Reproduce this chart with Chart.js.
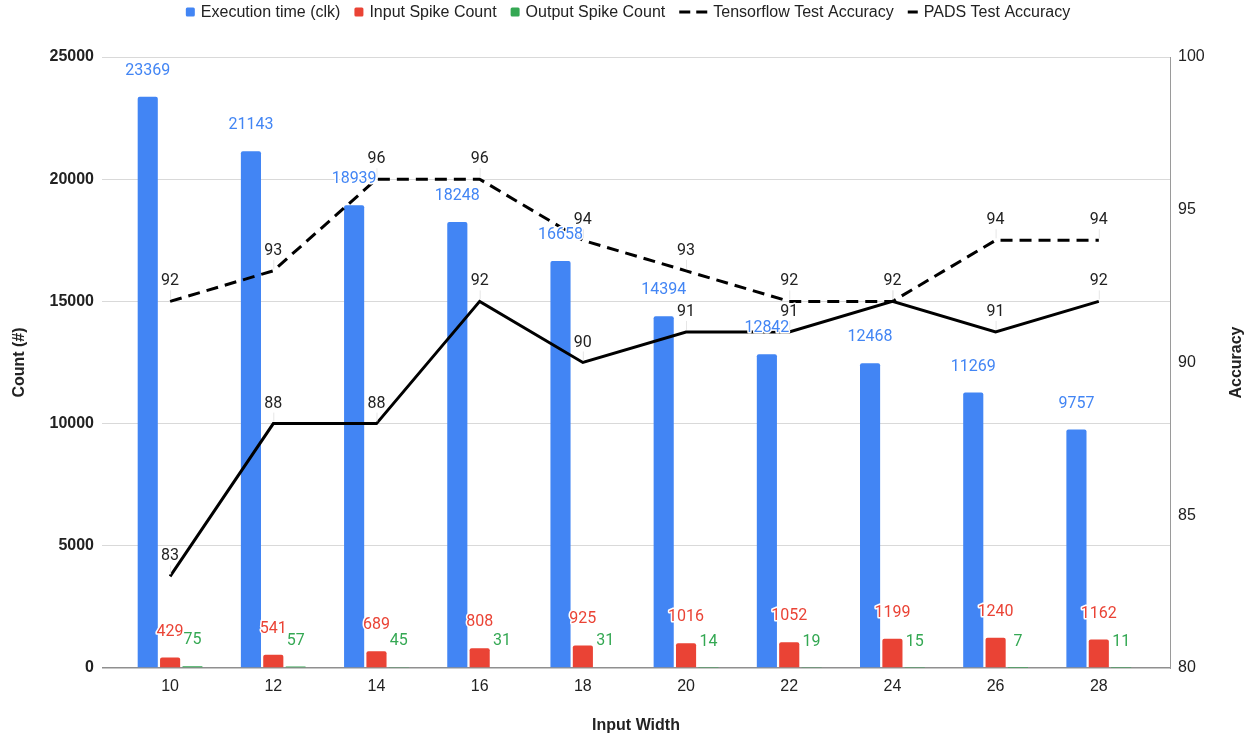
<!DOCTYPE html>
<html>
<head>
<meta charset="utf-8">
<title>Input Width vs Execution Time, Spike Counts and Accuracy</title>
<script src="https://cdn.jsdelivr.net/npm/chart.js@4.4.1/dist/chart.umd.min.js"></script>
<style>
  html, body { margin: 0; padding: 0; background: #ffffff; }
  #wrap { width: 1253px; height: 738px; position: relative; }
</style>
</head>
<body>
<div id="wrap"><canvas id="chart"></canvas></div>
<script>
// Input widths on the x axis
const inputWidths = [10, 12, 14, 16, 18, 20, 22, 24, 26, 28];

// Bar series (left axis, counts)
const executionTime    = [23369, 21143, 18939, 18248, 16658, 14394, 12842, 12468, 11269, 9757];
const inputSpikeCount  = [429, 541, 689, 808, 925, 1016, 1052, 1199, 1240, 1162];
const outputSpikeCount = [75, 57, 45, 31, 31, 14, 19, 15, 7, 11];

// Line series (right axis, accuracy %)
const tensorflowAccuracy = [92, 93, 96, 96, 94, 93, 92, 92, 94, 94];
const padsAccuracy       = [83, 88, 88, 92, 90, 91, 91, 92, 91, 92];

// Axis ticks
const countTicks    = [0, 5000, 10000, 15000, 20000, 25000];
const accuracyTicks = [80, 85, 90, 95, 100];

const BLUE = '#4285F4', RED = '#EA4335', GREEN = '#34A853', INK = '#222222';
const SANS = "'Liberation Sans', Arial, sans-serif";
const LABEL_FONT = "16px Roboto, 'Liberation Sans', sans-serif";

const pts = arr => arr.map((v, i) => ({ x: inputWidths[i], y: v }));

// Value labels with a white halo; thin leader lines under line labels
const valueLabels = {
  id: 'valueLabels',
  afterDatasetsDraw(chart) {
    const ctx = chart.ctx;
    ctx.save();
    ctx.textAlign = 'center';
    ctx.textBaseline = 'middle';
    ctx.lineJoin = 'round';
    ctx.font = LABEL_FONT;
    chart.data.datasets.forEach((ds, i) => {
      const meta = chart.getDatasetMeta(i);
      const isLine = ds.type === 'line';
      meta.data.forEach((el, j) => {
        const v = ds.data[j].y;
        const x = el.x;
        const y = isLine ? el.y - 20 : el.y - 26;
        if (isLine) {
          ctx.strokeStyle = '#e6e6e6';
          ctx.lineWidth = 1;
          ctx.beginPath();
          ctx.moveTo(x + 0.5, y + 9);
          ctx.lineTo(x + 0.5, el.y - 2);
          ctx.stroke();
        }
        ctx.strokeStyle = '#ffffff';
        ctx.lineWidth = 3;
        ctx.strokeText(String(v), x, y);
        ctx.fillStyle = ds.labelColor;
        ctx.fillText(String(v), x, y);
      });
    });
    ctx.restore();
  }
};

// Legend row across the top and the right-hand axis title
const legendAndTitles = {
  id: 'legendAndTitles',
  afterDraw(chart) {
    const ctx = chart.ctx;
    ctx.save();
    ctx.font = '16px ' + SANS;
    ctx.textBaseline = 'middle';
    ctx.textAlign = 'left';
    const items = [
      { text: 'Execution time (clk)', kind: 'box', color: BLUE },
      { text: 'Input Spike Count', kind: 'box', color: RED },
      { text: 'Output Spike Count', kind: 'box', color: GREEN },
      { text: 'Tensorflow Test Accuracy', kind: 'dash2', color: '#000' },
      { text: 'PADS Test Accuracy', kind: 'dash1', color: '#000' }
    ];
    const markerW = { box: 9, dash2: 28, dash1: 10 };
    const gapMarker = 6, gapItem = 14;
    let total = 0;
    items.forEach((it, k) => {
      it.w = ctx.measureText(it.text).width;
      total += markerW[it.kind] + gapMarker + it.w + (k ? gapItem : 0);
    });
    let x = 628 - total / 2;
    const cy = 12;
    items.forEach((it, k) => {
      if (k) x += gapItem;
      ctx.fillStyle = it.color;
      if (it.kind === 'box') {
        ctx.beginPath();
        ctx.roundRect(x, cy - 4.5, 9, 9, 1.5);
        ctx.fill();
      } else if (it.kind === 'dash2') {
        ctx.fillRect(x, cy - 1.5, 11, 3);
        ctx.fillRect(x + 17, cy - 1.5, 11, 3);
      } else {
        ctx.fillRect(x, cy - 1.5, 10, 3);
      }
      x += markerW[it.kind] + gapMarker;
      ctx.fillStyle = INK;
      ctx.fillText(it.text, x, cy + 1);
      x += it.w;
    });

    // right axis title, reading bottom to top
    const area = chart.chartArea;
    ctx.translate(1237, (area.top + area.bottom) / 2);
    ctx.rotate(-Math.PI / 2);
    ctx.textAlign = 'center';
    ctx.font = 'bold 16px ' + SANS;
    ctx.fillStyle = INK;
    ctx.fillText('Accuracy', 0, 0);
    ctx.restore();
  }
};

const barCommon = {
  type: 'bar',
  yAxisID: 'y',
  order: 1,
  borderRadius: { topLeft: 2, topRight: 2 },
  borderSkipped: 'start',
  categoryPercentage: 0.65,
  barPercentage: 0.9
};
const lineCommon = {
  type: 'line',
  yAxisID: 'y1',
  order: 0,
  borderColor: '#000000',
  borderWidth: 3,
  pointRadius: 0,
  tension: 0,
  fill: false,
  labelColor: INK
};

new Chart(document.getElementById('chart'), {
  type: 'bar',
  data: {
    datasets: [
      Object.assign({}, barCommon, { label: 'Execution time (clk)', data: pts(executionTime), backgroundColor: BLUE, labelColor: BLUE }),
      Object.assign({}, barCommon, { label: 'Input Spike Count', data: pts(inputSpikeCount), backgroundColor: RED, labelColor: RED }),
      Object.assign({}, barCommon, { label: 'Output Spike Count', data: pts(outputSpikeCount), backgroundColor: GREEN, labelColor: GREEN }),
      Object.assign({}, lineCommon, { label: 'Tensorflow Test Accuracy', data: pts(tensorflowAccuracy), borderDash: [12, 7] }),
      Object.assign({}, lineCommon, { label: 'PADS Test Accuracy', data: pts(padsAccuracy) })
    ]
  },
  options: {
    responsive: true,
    maintainAspectRatio: false,
    animation: false,
    layout: { padding: { top: 57, left: 0, right: 0, bottom: 0 } },
    plugins: {
      legend: { display: false },
      tooltip: { enabled: false }
    },
    scales: {
      x: {
        type: 'linear',
        offset: false,
        min: 8.68,
        max: 29.38,
        afterBuildTicks: s => { s.ticks = inputWidths.map(v => ({ value: v })); },
        afterFit: s => { s.height = 70; },
        grid: { display: false, drawTicks: false, offset: false },
        border: { display: false },
        ticks: {
          padding: 9,
          color: INK,
          font: { family: SANS, size: 16 },
          callback: v => String(v)
        },
        title: {
          display: true,
          text: 'Input Width',
          color: INK,
          font: { family: SANS, size: 16, weight: 'bold' },
          padding: { top: 0, bottom: 3 }
        }
      },
      y: {
        position: 'left',
        min: 0,
        max: 25000,
        afterBuildTicks: s => { s.ticks = countTicks.map(v => ({ value: v })); },
        afterFit: s => { s.width = 102; },
        grid: {
          drawTicks: false,
          color: c => (c.tick && c.tick.value === 0 ? '#8f8f8f' : '#d9d9d9'),
          lineWidth: c => (c.tick && c.tick.value === 0 ? 1.5 : 1)
        },
        border: { display: false },
        ticks: {
          padding: 8,
          color: INK,
          font: { family: SANS, size: 16, weight: 'bold' },
          callback: v => String(v)
        },
        title: {
          display: true,
          text: 'Count (#)',
          color: INK,
          font: { family: SANS, size: 16, weight: 'bold' },
          padding: { top: 10, bottom: 0 }
        }
      },
      y1: {
        position: 'right',
        min: 80,
        max: 100,
        afterBuildTicks: s => { s.ticks = accuracyTicks.map(v => ({ value: v })); },
        afterFit: s => { s.width = 83; },
        grid: { display: false, drawTicks: false },
        border: { display: true, color: '#9a9a9a', width: 1 },
        ticks: {
          padding: 8,
          color: INK,
          font: { family: SANS, size: 16 },
          callback: v => String(v)
        }
      }
    }
  },
  plugins: [valueLabels, legendAndTitles]
});
</script>
</body>
</html>
